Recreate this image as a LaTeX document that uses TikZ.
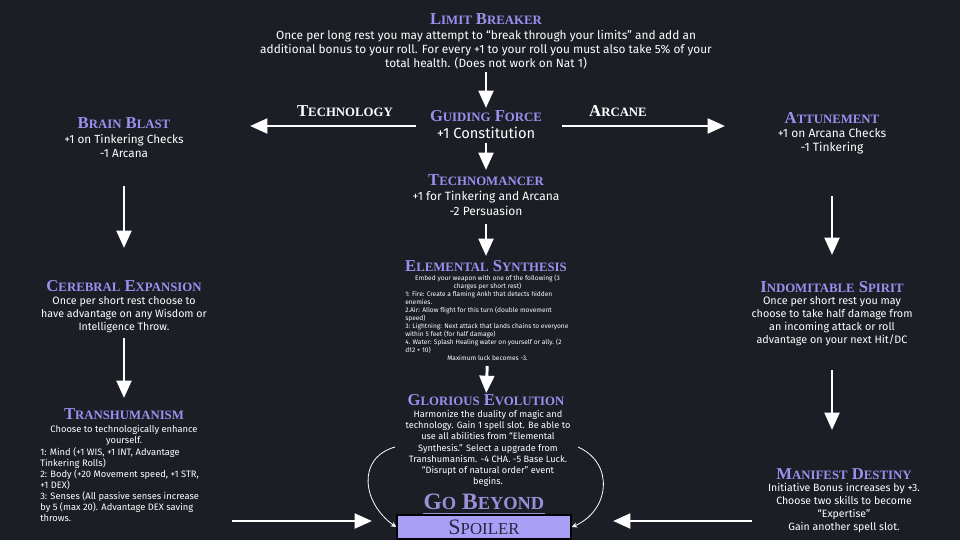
\documentclass[tikz,border=0pt]{standalone}
\usepackage{fontspec}
\setmainfont{Fira Sans}
\newfontfamily\tfam{Liberation Serif}
\usetikzlibrary{arrows.meta,calc}
\definecolor{bg}{HTML}{1C1E25}
\definecolor{lav}{HTML}{9D8FF0}
\definecolor{lavg}{HTML}{9B8FD8}
\definecolor{spfill}{HTML}{A99FF7}
\definecolor{sptext}{HTML}{2A2540}
\newcommand\scfont{\fontsize{9.6}{10}\selectfont}
\newcommand\mysc[2]{#1{\scfont #2}}
\tikzset{
  ttl/.style={font=\tfam\bfseries\fontsize{12.5}{14}\selectfont, text=lav, inner sep=0pt},
  wttl/.style={ttl, text=white},
  body/.style={text=white, inner sep=0pt, align=center},
  lbody/.style={text=white, inner sep=0pt, align=left, anchor=west},
  arr/.style={draw=white, line width=2.2pt, -{Triangle[width=11pt,length=13pt]}},
  carr/.style={draw=white, line width=0.6pt, -{Stealth[length=4pt,width=4pt]}},
}
\begin{document}
\begin{tikzpicture}[x=0.75pt,y=-0.75pt]
\fill[bg] (0,0) rectangle (960,540);
\useasboundingbox (0,0) rectangle (960,540);

% centre column
\node[ttl] (lbT) at (486,19) {\mysc{L}{IMIT} \mysc{B}{REAKER}};
\node[body, font=\fontsize{8.9}{10.5}\selectfont] (lbB) at (486,50) {Once per long rest you may attempt to “break through your limits” and add an\\additional bonus to your roll. For every +1 to your roll you must also take 5\% of your\\total health. (Does not work on Nat 1)};

\node[ttl] (gfT) at (486,116) {\mysc{G}{UIDING} \mysc{F}{ORCE}};
\node[body, font=\fontsize{11}{12}\selectfont] (gfB) at (486,133) {+1 Constitution};

\node[wttl] (techL) at (345,111) {\mysc{T}{ECHNOLOGY}};
\node[wttl] (arcL) at (618,111) {\mysc{A}{RCANE}};

\node[ttl] (tmT) at (486,180) {\mysc{T}{ECHNOMANCER}};
\node[body, font=\fontsize{9}{11.25}\selectfont] (tmB) at (486,203.5) {+1 for Tinkering and Arcana\\-2 Persuasion};

\node[ttl] (esT) at (486,266) {\mysc{E}{LEMENTAL} \mysc{S}{YNTHESIS}};
\node[body, font=\fontsize{4.95}{6}\selectfont] (esH) at (487.5,282) {Embed your weapon with one of the following (3\\charges per short rest)};
\node[lbody, font=\fontsize{4.95}{6}\selectfont] (esL) at (405,322) {1: Fire: Create a flaming Ankh that detects hidden\\enemies.\\2.Air: Allow flight for this turn (double movement\\speed)\\3: Lightning: Next attack that lands chains to everyone\\within 5 feet (for half damage)\\4. Water: Splash Healing water on yourself or ally. (2\\d12 + 10)};
\node[body, font=\fontsize{4.95}{6}\selectfont] (esF) at (487.5,358) {Maximum luck becomes -3.};

\node[ttl] (geT) at (486,400) {\mysc{G}{LORIOUS} \mysc{E}{VOLUTION}};
\node[body, font=\fontsize{6.9}{8.4}\selectfont] (geB) at (488,448.5) {Harmonize the duality of magic and\\technology. Gain 1 spell slot. Be able to\\use all abilities from “Elemental\\Synthesis.” Select a upgrade from\\Transhumanism. -4 CHA. -5 Base Luck.\\“Disrupt of natural order” event\\begins.};

\node[ttl, text=lavg, font=\tfam\bfseries\fontsize{17.6}{19}\selectfont] (gbT) at (484,502) {{\renewcommand\scfont{\fontsize{13.8}{15}\selectfont}\mysc{G}{O} \mysc{B}{EYOND}}};
\draw[lavg, line width=1.1pt] ([yshift=-2.5pt]gbT.south west) -- ([yshift=-2.5pt]gbT.south east);

\node[draw=black, line width=1.2pt, fill=spfill, text=sptext, minimum width=130.5pt, minimum height=18pt, inner sep=0pt, font=\tfam\fontsize{16.5}{17}\selectfont] (sp) at (484,527) {{\renewcommand\scfont{\fontsize{12.6}{13}\selectfont}\mysc{S}{POILER}}};

% left column
\node[ttl] (bbT) at (124,123) {\mysc{B}{RAIN} \mysc{B}{LAST}};
\node[body, font=\fontsize{8.8}{10.5}\selectfont] (bbB) at (124,146) {+1 on Tinkering Checks\\-1 Arcana};

\node[ttl] (ceT) at (124,286) {\mysc{C}{EREBRAL} \mysc{E}{XPANSION}};
\node[body, font=\fontsize{8}{9.75}\selectfont] (ceB) at (124,315) {Once per short rest choose to\\have advantage on any Wisdom or\\Intelligence Throw.};

\node[ttl] (thT) at (124,414) {\mysc{T}{RANSHUMANISM}};
\node[body, font=\fontsize{7}{8.25}\selectfont] (thH) at (124,435) {Choose to technologically enhance\\yourself.};
\node[lbody, font=\fontsize{7}{8.25}\selectfont] (thL) at (40,485) {1: Mind (+1 WIS, +1 INT, Advantage\\Tinkering Rolls)\\2: Body (+20 Movement speed, +1 STR,\\+1 DEX)\\3: Senses (All passive senses increase\\by 5 (max 20). Advantage DEX saving\\throws.};

% right column
\node[ttl] (atT) at (832,118) {\mysc{A}{TTUNEMENT}};
\node[body, font=\fontsize{9}{10.5}\selectfont] (atB) at (832,141.5) {+1 on Arcana Checks\\-1 Tinkering};

\node[ttl] (isT) at (832,287) {\mysc{I}{NDOMITABLE} \mysc{S}{PIRIT}};
\node[body, font=\fontsize{8.1}{9.75}\selectfont] (isB) at (832,321.5) {Once per short rest you may\\choose to take half damage from\\an incoming attack or roll\\advantage on your next Hit/DC};

\node[ttl] (mdT) at (844,474) {\mysc{M}{ANIFEST} \mysc{D}{ESTINY}};
\node[body, font=\fontsize{7.9}{9.75}\selectfont] (mdB) at (844,508.5) {Initiative Bonus increases by +3.\\Choose two skills to become\\“Expertise”\\Gain another spell slot.};

% free ends
\coordinate (techEnd) at (250,126);
\coordinate (arcEnd) at (725,126);
\coordinate (blStart) at (232,521);
\coordinate (brStart) at (752,521);

% connectors
\draw[arr, shorten <=16.5pt, shorten >=6pt] (lbB.center) -- (gfT.center);
\draw[arr, shorten <=7.5pt, shorten >=7.5pt] (gfB.center) -- (tmT.center);
\draw[arr, shorten <=15.4pt, shorten >=7.5pt] (tmB.center) -- (esT.center);
\draw[arr, shorten <=6pt, shorten >=5.25pt] (esF.center) -- (geT.center);
\draw[arr, shorten <=30pt, shorten >=28.5pt] (bbB.center) -- (ceT.center);
\draw[arr, shorten <=17.25pt, shorten >=12pt] (ceB.center) -- (thT.center);
\draw[arr, shorten <=40.9pt, shorten >=24pt] (atB.center) -- (isT.center);
\draw[arr, shorten <=36.4pt, shorten >=33pt] (isB.center) -- (mdT.center -| isB.center);
\draw[arr, shorten <=52.5pt] (techEnd -| gfT.center) -- (techEnd);
\draw[arr, shorten <=57pt] (arcEnd -| gfT.center) -- (arcEnd);
\draw[arr, shorten >=84pt] (blStart) -- (blStart -| sp.center);
\draw[arr, shorten >=96.75pt] (brStart) -- (brStart -| sp.center);
\draw[carr] ($(geB.center)+(-93,-1.5)$) to[out=196,in=145,looseness=1.3] (sp.west);
\draw[carr] ($(geB.center)+(90,-1.5)$) to[out=336,in=23,looseness=1.3] (sp.east);
\end{tikzpicture}
\end{document}
